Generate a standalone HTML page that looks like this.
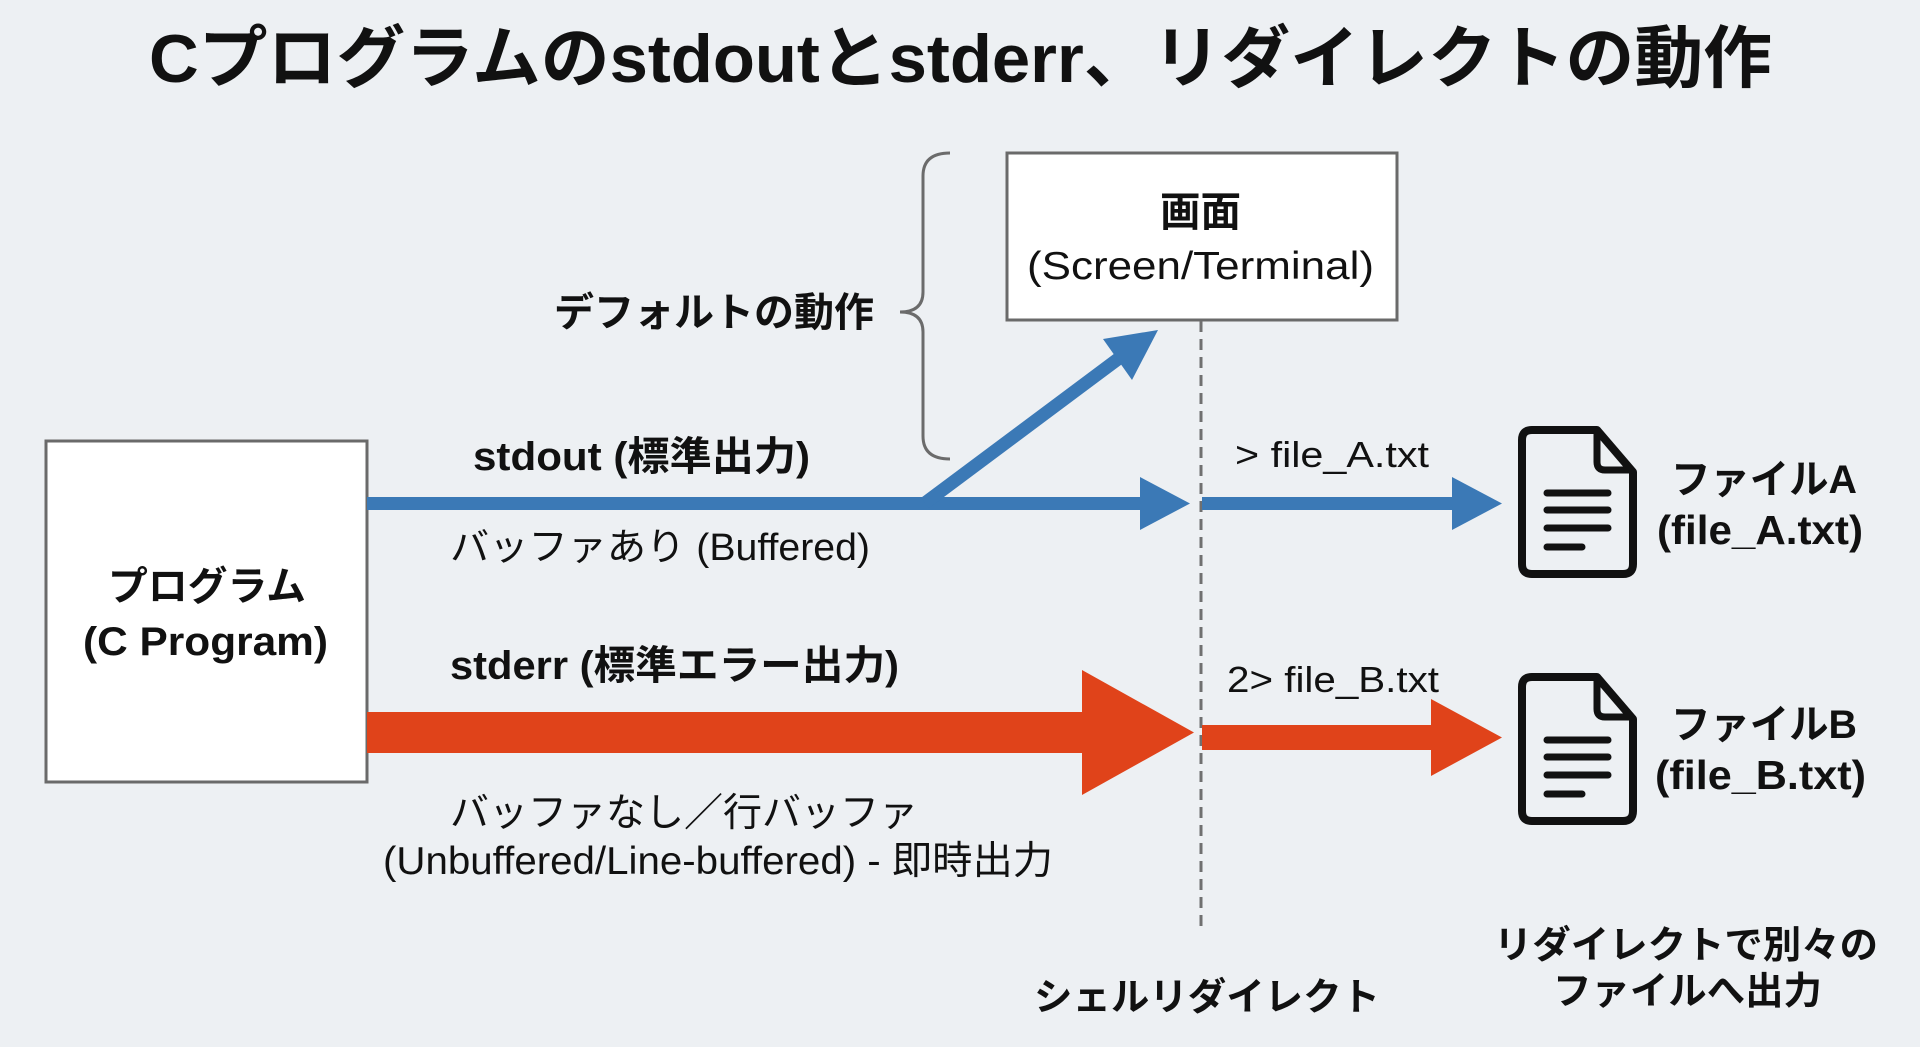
<!DOCTYPE html>
<html><head><meta charset="utf-8">
<style>
html,body{margin:0;padding:0;background:#edf0f3;}
svg{display:block;}
text{font-family:"Liberation Sans","Noto Sans CJK JP",sans-serif;fill:#111;}
.b{font-weight:700;}
</style></head>
<body>
<svg width="1920" height="1047" viewBox="0 0 1920 1047" xmlns="http://www.w3.org/2000/svg">
<rect x="0" y="0" width="1920" height="1047" fill="#edf0f3"/>

<!-- Title -->
<text class="b" x="149" y="82" font-size="68" textLength="1623" lengthAdjust="spacingAndGlyphs">Cプログラムのstdoutとstderr、リダイレクトの動作</text>

<!-- Program box -->
<rect x="46" y="441" width="321" height="341" fill="#ffffff" stroke="#6a6a6a" stroke-width="3"/>
<text class="b" x="108" y="600" font-size="40" textLength="198" lengthAdjust="spacingAndGlyphs">プログラム</text>
<text class="b" x="83" y="655" font-size="40" textLength="245" lengthAdjust="spacingAndGlyphs">(C Program)</text>

<!-- Screen box -->
<rect x="1007" y="153" width="390" height="167" fill="#ffffff" stroke="#6a6a6a" stroke-width="3"/>
<text class="b" x="1160" y="226" font-size="41" textLength="81" lengthAdjust="spacingAndGlyphs">画面</text>
<text x="1027" y="279" font-size="39" textLength="347" lengthAdjust="spacingAndGlyphs">(Screen/Terminal)</text>

<!-- Brace -->
<path d="M950,153 Q923,153 923,176 L923,292 Q923,312 900,312 Q923,312 923,332 L923,436 Q923,459 950,459" fill="none" stroke="#6b6b6b" stroke-width="3"/>
<text class="b" x="554" y="326" font-size="40" textLength="320" lengthAdjust="spacingAndGlyphs">デフォルトの動作</text>

<!-- Dashed line -->
<line x1="1201" y1="321" x2="1201" y2="928" stroke="#707070" stroke-width="3" stroke-dasharray="11 7"/>

<!-- stdout -->
<text class="b" x="473" y="470" font-size="40" textLength="337" lengthAdjust="spacingAndGlyphs">stdout (標準出力)</text>
<rect x="367" y="497" width="774" height="13" fill="#3b79b6"/>
<polygon points="1140,477 1190,503.5 1140,530" fill="#3b79b6"/>
<line x1="925" y1="503" x2="1118" y2="359" stroke="#3b79b6" stroke-width="13"/>
<polygon points="1158,330 1103,339 1132,380" fill="#3b79b6"/>
<text x="450" y="560" font-size="38" textLength="420" lengthAdjust="spacingAndGlyphs">バッファあり (Buffered)</text>

<rect x="1202" y="497" width="251" height="13" fill="#3b79b6"/>
<polygon points="1452,477 1502,503.5 1452,530" fill="#3b79b6"/>
<text x="1235" y="467" font-size="36" textLength="194" lengthAdjust="spacingAndGlyphs">&gt; file_A.txt</text>

<!-- File A icon -->
<g fill="none" stroke="#111" stroke-linejoin="round" stroke-linecap="round">
  <path d="M1532,430 L1597,430 L1633,472 L1633,564 Q1633,574 1623,574 L1532,574 Q1522,574 1522,564 L1522,440 Q1522,430 1532,430 Z" stroke-width="8"/>
  <path d="M1597,432 L1597,462 Q1597,470 1605,470 L1631,470" stroke-width="7"/>
  <line x1="1547" y1="493" x2="1608" y2="493" stroke-width="7"/>
  <line x1="1547" y1="510" x2="1608" y2="510" stroke-width="7"/>
  <line x1="1547" y1="528" x2="1608" y2="528" stroke-width="7"/>
  <line x1="1547" y1="547" x2="1582" y2="547" stroke-width="7"/>
</g>
<text class="b" x="1671" y="493" font-size="40" textLength="186" lengthAdjust="spacingAndGlyphs">ファイルA</text>
<text class="b" x="1657" y="544" font-size="41" textLength="206" lengthAdjust="spacingAndGlyphs">(file_A.txt)</text>

<!-- stderr -->
<text class="b" x="450" y="679" font-size="40" textLength="449" lengthAdjust="spacingAndGlyphs">stderr (標準エラー出力)</text>
<rect x="367" y="712" width="716" height="41" fill="#e0431a"/>
<polygon points="1082,670 1194,732.5 1082,795" fill="#e0431a"/>
<rect x="1202" y="725" width="230" height="25" fill="#e0431a"/>
<polygon points="1431,699 1502,737.5 1431,776" fill="#e0431a"/>
<text x="1227" y="692" font-size="36" textLength="212" lengthAdjust="spacingAndGlyphs">2&gt; file_B.txt</text>
<text x="450" y="826" font-size="39" textLength="468" lengthAdjust="spacingAndGlyphs">バッファなし／行バッファ</text>
<text x="383" y="874" font-size="39" textLength="670" lengthAdjust="spacingAndGlyphs">(Unbuffered/Line-buffered) - 即時出力</text>

<!-- File B icon -->
<g fill="none" stroke="#111" stroke-linejoin="round" stroke-linecap="round" transform="translate(0,247)">
  <path d="M1532,430 L1597,430 L1633,472 L1633,564 Q1633,574 1623,574 L1532,574 Q1522,574 1522,564 L1522,440 Q1522,430 1532,430 Z" stroke-width="8"/>
  <path d="M1597,432 L1597,462 Q1597,470 1605,470 L1631,470" stroke-width="7"/>
  <line x1="1547" y1="493" x2="1608" y2="493" stroke-width="7"/>
  <line x1="1547" y1="510" x2="1608" y2="510" stroke-width="7"/>
  <line x1="1547" y1="528" x2="1608" y2="528" stroke-width="7"/>
  <line x1="1547" y1="547" x2="1582" y2="547" stroke-width="7"/>
</g>
<text class="b" x="1671" y="738" font-size="40" textLength="186" lengthAdjust="spacingAndGlyphs">ファイルB</text>
<text class="b" x="1655" y="789" font-size="41" textLength="211" lengthAdjust="spacingAndGlyphs">(file_B.txt)</text>

<!-- Bottom labels -->
<text class="b" x="1034" y="1010" font-size="38" textLength="346" lengthAdjust="spacingAndGlyphs">シェルリダイレクト</text>
<text class="b" x="1494" y="958" font-size="38" textLength="384" lengthAdjust="spacingAndGlyphs">リダイレクトで別々の</text>
<text class="b" x="1553" y="1004" font-size="38" textLength="269" lengthAdjust="spacingAndGlyphs">ファイルへ出力</text>
</svg>
</body></html>
